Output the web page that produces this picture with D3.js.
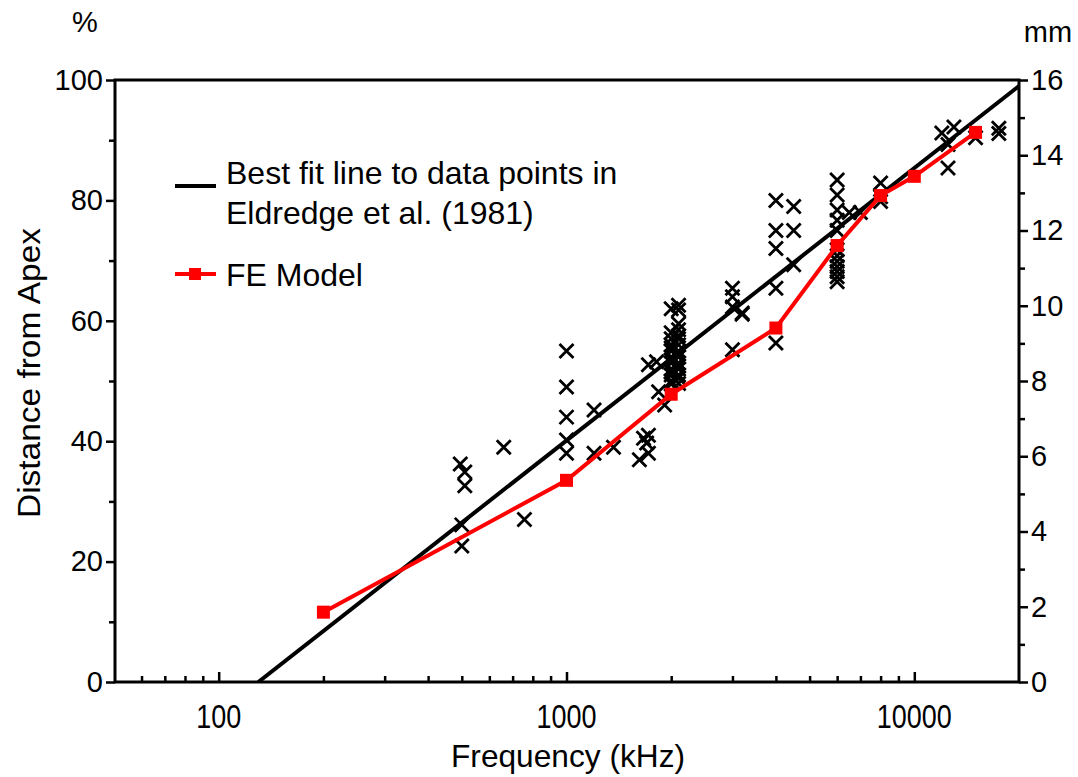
<!DOCTYPE html>
<html><head><meta charset="utf-8">
<script src="https://cdn.jsdelivr.net/npm/d3@7"></script>
<style>
body{margin:0;background:#fff;}
svg text{font-family:"Liberation Sans",Arial,sans-serif;fill:#000;}
</style></head>
<body><svg id="c" width="1078" height="777"></svg>
<script>
// ---- data ----
const fitFreq = [130, 20000];
const fitDist = [0, 99];
const feFreq = [200, 1000, 2000, 4000, 6000, 8000, 10000, 15000];
const feDist = [11.6, 33.5, 47.8, 58.8, 72.5, 80.8, 84, 91.3];
const dataFreq = [495, 510, 510, 500, 500, 660, 757,
  1000, 1000, 1000, 1000, 1000, 1200, 1200, 1365,
  1620, 1665, 1720, 1720, 1700, 1720, 1815, 1840, 1915,
  2000, 2000, 2000, 2000, 2000, 2000, 2000, 2000, 2000, 2000, 2000, 2000, 2000, 2000,
  2100, 2100, 2100, 2100, 2100, 2100, 2100, 2100, 2100, 2100, 2100, 2100, 2100, 2100, 2100, 2100,
  3000, 3000, 3000, 3200, 3200, 3000,
  4000, 4500, 4000, 4500, 4000, 4500, 4000, 4000,
  6000, 6000, 6000, 6000, 6000, 6500, 7000,
  6000, 6000, 6000, 6000, 6000, 6000, 6000,
  8000, 8000, 8000,
  12000, 13000, 12500, 12500,
  15000, 17500, 17500];
const dataDist = [36.2, 34.9, 32.6, 26.1, 22.6, 39, 27,
  55, 49, 44, 40.2, 38, 45.2, 38, 39,
  36.9, 40.5, 41, 38, 39.7, 52.7, 53.2, 48.2, 46,
  62, 58, 57, 56, 55.5, 55, 54, 53.5, 53, 52, 51.5, 51, 50, 49.5,
  62.6, 61.8, 59.5, 58.5, 57.5, 57, 56, 55, 54.5, 54, 53, 52.5, 52, 51, 50.5, 49.6,
  65.4, 64, 62.3, 61.3, 61.1, 55.2,
  80, 79, 75, 75, 72, 69.3, 65.4, 56.3,
  83.4, 80.9, 78.4, 76.7, 75, 78, 78,
  71.8, 70.8, 69.9, 69, 68.2, 67.3, 66.5,
  82.9, 80.6, 79.8,
  91.2, 92.2, 89.3, 85.4,
  90.4, 92, 91.1];
const yTicks = [0, 20, 40, 60, 80, 100];
const yMinor = [10, 30, 50, 70, 90];
const mmTicks = [0, 2, 4, 6, 8, 10, 12, 14, 16];
const mmMinor = [1, 3, 5, 7, 9, 11, 13, 15];
const xTicks = [100, 1000, 10000];
const xMinor = [60, 70, 80, 90, 200, 300, 400, 500, 600, 700, 800, 900,
  2000, 3000, 4000, 5000, 6000, 7000, 8000, 9000];
const legendLabels = ["Best fit line to data points in", "Eldredge et al. (1981)", "FE Model"];

// ---- layout ----
const svg = d3.select("#c");
const L = 115, R = 1019, T = 80, B = 682;
const x = d3.scaleLog().domain([50, 20000]).range([L - 1, R]);
const y = d3.scaleLinear().domain([0, 100]).range([B, T]);
const ymm = d3.scaleLinear().domain([0, 16]).range([B, T]);

svg.append("clipPath").attr("id", "clip").append("rect")
  .attr("x", L).attr("y", T).attr("width", R - L).attr("height", B - T);

// best fit line
const plot = svg.append("g").attr("clip-path", "url(#clip)");
plot.append("path")
  .datum(fitFreq.map((f, i) => [f, fitDist[i]]))
  .attr("d", d3.line().x(d => x(d[0])).y(d => y(d[1])))
  .attr("stroke", "#000").attr("stroke-width", 4).attr("fill", "none");

// data crosses
const cs = 7;
svg.append("g").selectAll("path").data(dataFreq.map((f, i) => [f, dataDist[i]]))
  .join("path")
  .attr("d", d => {
    const cx = x(d[0]), cy = y(d[1]);
    return `M${cx - cs},${cy - cs}L${cx + cs},${cy + cs}M${cx - cs},${cy + cs}L${cx + cs},${cy - cs}`;
  })
  .attr("stroke", "#000").attr("stroke-width", 2.8).attr("fill", "none");

// FE model
const fe = feFreq.map((f, i) => [f, feDist[i]]);
svg.append("path").datum(fe)
  .attr("d", d3.line().x(d => x(d[0])).y(d => y(d[1])))
  .attr("stroke", "#ff0000").attr("stroke-width", 4).attr("fill", "none");
svg.append("g").selectAll("rect").data(fe).join("rect")
  .attr("x", d => x(d[0]) - 6.5).attr("y", d => y(d[1]) - 6.5)
  .attr("width", 13).attr("height", 13).attr("fill", "#ff0000");

// frame
svg.append("rect").attr("x", L).attr("y", T).attr("width", R - L).attr("height", B - T)
  .attr("fill", "none").attr("stroke", "#000").attr("stroke-width", 3);

// left axis
const gl = svg.append("g").attr("transform", `translate(${L},0)`);
gl.call(d3.axisLeft(y).tickValues(yTicks).tickSize(9).tickPadding(3).tickFormat(d3.format("d")));
gl.append("g").call(d3.axisLeft(y).tickValues(yMinor).tickSize(6).tickFormat(""));
// right axis
const gr = svg.append("g").attr("transform", `translate(${R},0)`);
gr.call(d3.axisRight(ymm).tickValues(mmTicks).tickSize(9).tickPadding(3).tickFormat(d3.format("d")));
gr.append("g").call(d3.axisRight(ymm).tickValues(mmMinor).tickSize(6).tickFormat(""));
// bottom axis (ticks inward)
const gb = svg.append("g").attr("transform", `translate(0,${B})`);
gb.call(d3.axisTop(x).tickValues(xTicks).tickSize(10).tickFormat(""));
gb.append("g").call(d3.axisTop(x).tickValues(xMinor).tickSize(6).tickFormat(""));
gb.append("g").selectAll("text").data(xTicks).join("text")
  .attr("x", d => x(d)).attr("y", 46).attr("text-anchor", "middle")
  .attr("font-size", 33).attr("textLength", d => String(d).length * 15)
  .attr("lengthAdjust", "spacingAndGlyphs").text(d => d);

[gl, gr, gb].forEach(g => {
  g.selectAll(".domain").remove();
  g.selectAll("line").attr("stroke", "#000").attr("stroke-width", 2.5);
  g.selectAll(".tick text").attr("font-size", 29).attr("fill", "#000")
    .attr("font-family", "'Liberation Sans', Arial, sans-serif");
});

// axis titles
svg.append("text").attr("x", 568).attr("y", 767)
  .attr("text-anchor", "middle").attr("font-size", 32)
  .attr("textLength", 234).attr("lengthAdjust", "spacingAndGlyphs").text("Frequency (kHz)");
svg.append("text")
  .attr("transform", "translate(40,373) rotate(-90)")
  .attr("text-anchor", "middle").attr("font-size", 32)
  .attr("textLength", 290).attr("lengthAdjust", "spacingAndGlyphs").text("Distance from Apex");
svg.append("text").attr("x", 85).attr("y", 32).attr("text-anchor", "middle")
  .attr("font-size", 29).text("%");
svg.append("text").attr("x", 1048).attr("y", 42).attr("text-anchor", "middle")
  .attr("font-size", 29).text("mm");

// legend
const lg = svg.append("g");
lg.append("line").attr("x1", 175).attr("x2", 216).attr("y1", 186).attr("y2", 186)
  .attr("stroke", "#000").attr("stroke-width", 4);
lg.append("text").attr("x", 226).attr("y", 184).attr("font-size", 32).text(legendLabels[0]);
lg.append("text").attr("x", 226).attr("y", 224).attr("font-size", 32).text(legendLabels[1]);
lg.append("line").attr("x1", 175).attr("x2", 216).attr("y1", 274).attr("y2", 274)
  .attr("stroke", "#ff0000").attr("stroke-width", 4);
lg.append("rect").attr("x", 189).attr("y", 268).attr("width", 12).attr("height", 12).attr("fill", "#ff0000");
lg.append("text").attr("x", 226).attr("y", 286).attr("font-size", 32).text(legendLabels[2]);
</script></body></html>
